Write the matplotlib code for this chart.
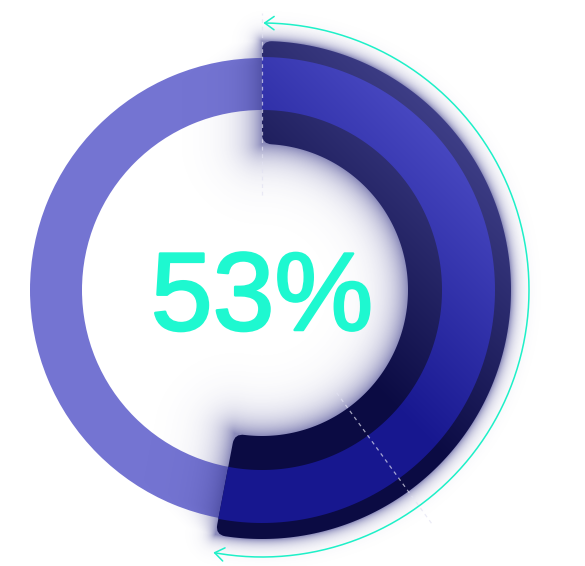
import numpy as np
import matplotlib
matplotlib.use("Agg")
import matplotlib.pyplot as plt
import matplotlib.patheffects as pe
from matplotlib.path import Path
from matplotlib.patches import PathPatch, Wedge, FancyArrowPatch, ArrowStyle

# datos del grafico
valor_pct = 53          # porcentaje mostrado
marca_pct = 40          # marca discontinua
etiqueta = f"{valor_pct}%"

W, H = 585, 566
cx, cy = 262, 290
a_fin = valor_pct / 100 * 360
a_marca = marca_pct / 100 * 360

fig = plt.figure(figsize=(W / 100, H / 100), dpi=100)
ax = fig.add_axes([0, 0, 1, 1])
ax.set_xlim(0, W)
ax.set_ylim(H, 0)
ax.axis('off')


def pt(a, r):
    # angulo en grados, sentido horario desde arriba
    return (cx + r * np.sin(np.radians(a)), cy - r * np.cos(np.radians(a)))


def arco_redondeado(a0, a1, r_in, r_out, rc, n=200):
    do = np.degrees(rc / r_out)
    di = np.degrees(rc / r_in)
    verts, codes = [pt(a0, r_out - rc)], [Path.MOVETO]
    verts += [pt(a0, r_out), pt(a0 + do, r_out)]
    codes += [Path.CURVE3] * 2
    for a in np.linspace(a0 + do, a1 - do, n)[1:]:
        verts.append(pt(a, r_out))
        codes.append(Path.LINETO)
    verts += [pt(a1, r_out), pt(a1, r_out - rc)]
    codes += [Path.CURVE3] * 2
    verts.append(pt(a1, r_in + rc))
    codes.append(Path.LINETO)
    verts += [pt(a1, r_in), pt(a1 - di, r_in)]
    codes += [Path.CURVE3] * 2
    for a in np.linspace(a1 - di, a0 + di, n)[1:]:
        verts.append(pt(a, r_in))
        codes.append(Path.LINETO)
    verts += [pt(a0, r_in), pt(a0, r_in + rc)]
    codes += [Path.CURVE3] * 2
    verts.append(pt(a0, r_out - rc))
    codes.append(Path.CLOSEPOLY)
    return Path(verts, codes)


# rejilla de pixeles
X, Y = np.meshgrid(np.arange(W) + 0.5, np.arange(H) + 0.5)


def gradiente(c_claro, c_oscuro, p0=(490, 150), p1=(313, 327)):
    d = np.array(p1, float) - np.array(p0, float)
    L = np.hypot(*d)
    t = ((X - p0[0]) * d[0] + (Y - p0[1]) * d[1]) / L / L
    t = np.clip(t, 0, 1)[..., None]
    c0 = np.array(matplotlib.colors.to_rgb(c_claro))
    c1 = np.array(matplotlib.colors.to_rgb(c_oscuro))
    return c0 * (1 - t) + c1 * t


# anillo de fondo
ax.add_patch(Wedge((cx, cy), 232, 0, 360, width=52, facecolor='#7474d2',
                   edgecolor='none', zorder=1))

# sombra del arco
r_in, r_out = 146, 249
dx, dy = X - cx, cy - Y
R = np.hypot(dx, dy)
A = np.degrees(np.arctan2(dx, dy)) % 360
dist = np.where(A <= a_fin, np.maximum(np.maximum(r_in - R, R - r_out), 0), np.inf)
for a in (0, a_fin):
    u = np.array([np.sin(np.radians(a)), np.cos(np.radians(a))])
    s = np.clip(dx * u[0] + dy * u[1], r_in, r_out)
    dist = np.minimum(dist, np.hypot(dx - s * u[0], dy - s * u[1]))
sigma = 6 + 10 * np.clip((r_out - R) / 25, 0, 1)
alpha = 0.6 * np.exp(-dist / sigma)
sombra = np.zeros((H, W, 4))
sombra[..., 0] = 60 / 255
sombra[..., 1] = 60 / 255
sombra[..., 2] = 140 / 255
sombra[..., 3] = alpha
ax.imshow(sombra, extent=(0, W, H, 0), interpolation='bilinear', zorder=2)

# arco oscuro con gradiente
camino = arco_redondeado(0, a_fin, r_in, r_out, 10)
clip = PathPatch(camino, transform=ax.transData)
im = ax.imshow(gradiente('#40408a', '#0b0b43'), extent=(0, W, H, 0),
               interpolation='bilinear', zorder=3)
im.set_clip_path(clip)

# banda del anillo sobre el arco
banda = arco_redondeado(0, a_fin, 180, 233, 0.5)
clip2 = PathPatch(banda, transform=ax.transData)
im2 = ax.imshow(gradiente('#4d4dc6', '#17178f'), extent=(0, W, H, 0),
                interpolation='bilinear', zorder=4)
im2.set_clip_path(clip2)

# lineas discontinuas
for a, r0, r1 in ((0, 95, 277), (a_marca, 127, 292)):
    (x0, y0), (x1, y1) = pt(a, r0), pt(a, r1)
    ax.plot([x0, x1], [y0, y1], color='#e2e2f2', lw=0.9, alpha=0.7,
            linestyle=(0, (3, 3)), zorder=5)

# flecha cian
angs = np.linspace(0.3, a_fin - 0.3, 300)
flecha = Path([pt(a, 267) for a in angs])
ax.add_patch(FancyArrowPatch(path=flecha,
                             arrowstyle=ArrowStyle('<->', head_length=0.45, head_width=0.32),
                             mutation_scale=15, color='#1ef0c8', lw=1.1,
                             shrinkA=0, shrinkB=0, zorder=6))

# texto central
ax.text(cx, 330, etiqueta, ha='center', va='baseline', color='#1ef8d0',
        fontsize=80, family='Liberation Sans', zorder=7,
        path_effects=[pe.withStroke(linewidth=1.8, foreground='#1ef8d0')])

plt.savefig('out.png', dpi=100)
